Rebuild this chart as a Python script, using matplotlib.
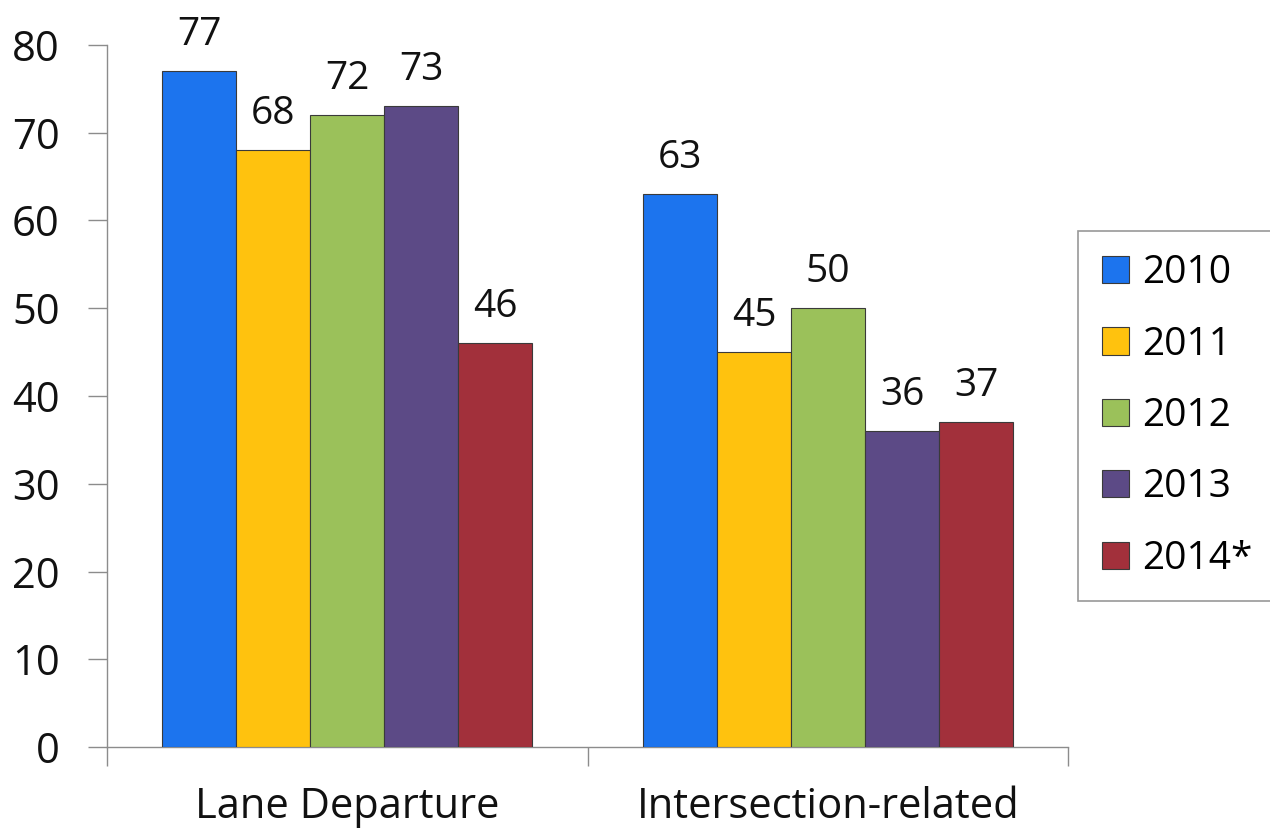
import numpy as np
import matplotlib
matplotlib.use("Agg")
import matplotlib.pyplot as plt

plt.rcParams['font.family'] = ['Open Sans', 'DejaVu Sans']

categories = ["Lane Departure", "Intersection-related"]
years = ["2010", "2011", "2012", "2013", "2014*"]
values = {
    "2010": [77, 63],
    "2011": [68, 45],
    "2012": [72, 50],
    "2013": [73, 36],
    "2014*": [46, 37],
}
colors = ["#1c74ee", "#ffc20e", "#9bc15a", "#5c4a86", "#a2303b"]
yticks = [0, 10, 20, 30, 40, 50, 60, 70, 80]

fig = plt.figure(figsize=(12.7, 8.32), dpi=100)
ax = fig.add_axes([0.0843, 0.102, 0.757, 0.844])

n = len(years)
group_w = 0.77
bw = group_w / n
x = np.arange(len(categories))
for i, (yr, c) in enumerate(zip(years, colors)):
    pos = x - group_w / 2 + bw * (i + 0.5)
    bars = ax.bar(pos, values[yr], width=bw, color=c, edgecolor="#3a3a3a",
                  linewidth=0.8, label=yr, zorder=3)
    for b, v in zip(bars, values[yr]):
        ax.text(b.get_x() + b.get_width() / 2, v + 2.0, str(v),
                ha="center", va="bottom", fontsize=28, color="#111111")

ax.set_xlim(-0.5, 1.5)
ax.set_ylim(0, 80)
ax.set_yticks(yticks)
ax.set_yticklabels([str(t) for t in yticks], fontsize=30, color="#111111")
ax.tick_params(axis="y", length=14, width=1, color="#8c8c8c", pad=20)

# category boundaries as ticks, labels centred under each group
ax.set_xticks([-0.5, 0.5, 1.5])
ax.set_xticklabels([])
ax.tick_params(axis="x", length=14, width=1, color="#8c8c8c", direction="out")
for xi, name in zip(x, categories):
    ax.text(xi, -6.8, name, ha="center", va="center", fontsize=30, color="#111111")

for s in ["top", "right"]:
    ax.spines[s].set_visible(False)
for s in ["left", "bottom"]:
    ax.spines[s].set_color("#8c8c8c")
    ax.spines[s].set_linewidth(1)

leg = fig.legend(loc="center left", bbox_to_anchor=(0.849, 0.5), fontsize=28,
                 frameon=True, fancybox=False, edgecolor="#7f7f7f",
                 handlelength=0.7, handleheight=0.7, handletextpad=0.35,
                 labelspacing=0.86, borderpad=0.6, borderaxespad=0.0)
leg.get_frame().set_linewidth(1.2)

fig.savefig("out.png", dpi=100)
